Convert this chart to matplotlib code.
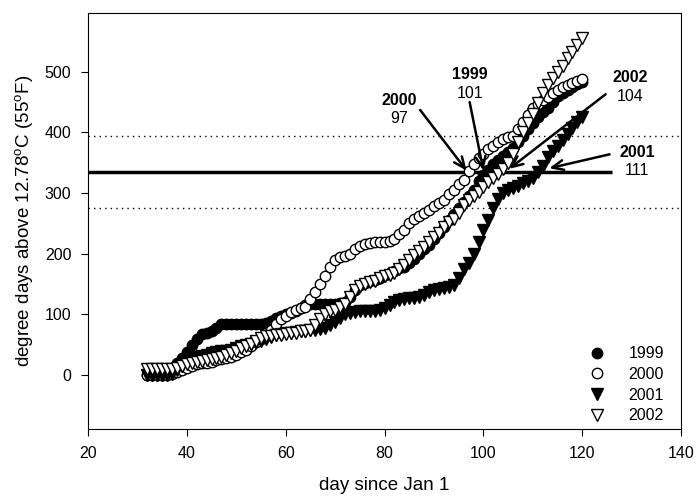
import matplotlib
matplotlib.use("Agg")
import matplotlib.pyplot as plt

plt.rcParams["font.family"] = ["Liberation Sans", "DejaVu Sans"]
plt.rcParams["mathtext.fontset"] = "custom"
plt.rcParams["mathtext.rm"] = "Liberation Sans"

# day of year, one reading per day
days = list(range(32, 121))

dd_1999 = [0, 0, 0, 0, 2, 10, 20, 28, 38, 50, 60, 68, 70, 72, 78, 85, 85, 85, 85, 85,
           85, 85, 85, 85, 86, 90, 95, 98, 100, 102, 105, 110, 115, 117, 118, 118, 118, 118, 118, 119,
           120, 128, 140, 148, 152, 155, 157, 160, 165, 168, 172, 176, 178, 185, 192, 200, 208, 215, 225, 235,
           245, 255, 265, 275, 285, 295, 305, 320, 330, 338, 348, 355, 362, 368, 375, 385, 395, 405, 415, 425,
           433, 440, 450, 460, 465, 470, 475, 480, 483]

dd_2000 = [0, 0, 0, 0, 0, 2, 5, 8, 12, 15, 18, 20, 20, 22, 25, 27, 28, 30, 33, 38,
           42, 48, 55, 60, 65, 75, 85, 92, 98, 104, 108, 110, 113, 125, 137, 150, 163, 178, 190, 195,
           197, 200, 208, 213, 216, 218, 220, 220, 220, 221, 225, 232, 240, 250, 258, 263, 268, 272, 278, 283,
           288, 298, 305, 315, 322, 336, 348, 358, 365, 372, 378, 385, 390, 392, 395, 405, 418, 428, 440, 447,
           453, 458, 465, 470, 475, 478, 482, 485, 488]

dd_2001 = [0, 0, 0, 0, 0, 2, 8, 15, 22, 28, 30, 32, 34, 36, 38, 40, 40, 42, 45, 48,
           50, 52, 54, 56, 60, 63, 66, 68, 70, 70, 71, 72, 73, 74, 75, 76, 78, 82, 88, 95,
           100, 103, 104, 105, 105, 105, 106, 108, 110, 115, 120, 124, 126, 127, 127, 128, 132, 137, 140, 142,
           143, 145, 148, 160, 175, 185, 200, 220, 240, 255, 275, 290, 300, 305, 308, 312, 316, 320, 325, 335,
           345, 360, 370, 378, 388, 398, 408, 418, 425]

dd_2002 = [10, 10, 10, 10, 10, 10, 12, 15, 18, 20, 22, 24, 25, 26, 28, 30, 33, 36, 40, 45,
           48, 52, 57, 62, 64, 65, 66, 67, 68, 69, 70, 72, 73, 75, 82, 92, 100, 105, 108, 112,
           118, 128, 140, 147, 150, 153, 156, 160, 163, 165, 168, 175, 182, 190, 198, 205, 212, 220, 228, 235,
           245, 252, 258, 268, 280, 288, 295, 302, 310, 318, 325, 332, 340, 350, 365, 385, 400, 415, 430, 448,
           465, 478, 490, 500, 510, 522, 532, 545, 556]

# threshold band
target = 335
band_lo = 275
band_hi = 395

# year, day reached, label position, arrow start, arrow tip
callouts = [
    ("2000", "97", (83.0, 453), (87.2, 437), (96.6, 337)),
    ("1999", "101", (97.2, 495), (97.2, 450), (100.0, 337)),
    ("2002", "104", (129.6, 490), (124.7, 463), (105.2, 340)),
    ("2001", "111", (131.1, 367), (125.5, 364), (113.3, 341)),
]

fig = plt.figure(figsize=(6.98, 4.99), dpi=100)
ax = fig.add_axes([0.126, 0.140, 0.850, 0.834])

ax.axhline(band_hi, color="black", lw=1, ls=(0, (1, 3)))
ax.axhline(band_lo, color="black", lw=1, ls=(0, (1, 3)))
ax.plot([20, 126], [target, target], color="black", lw=2.5, solid_capstyle="butt")

ax.plot(days, dd_1999, ls="none", marker="o", ms=7.5, mfc="black", mec="black", mew=1, label="1999")
ax.plot(days, dd_2000, ls="none", marker="o", ms=7.5, mfc="white", mec="black", mew=1, label="2000")
ax.plot(days, dd_2001, ls="none", marker="v", ms=8, mfc="black", mec="black", mew=1, label="2001")
ax.plot(days, dd_2002, ls="none", marker="v", ms=8, mfc="white", mec="black", mew=1, label="2002")

for year, day, (tx, ty), start, tip in callouts:
    ax.text(tx, ty, year, ha="center", va="center", fontsize=11.5, fontweight="bold")
    ax.text(tx, ty - 30, day, ha="center", va="center", fontsize=11.5)
    ax.annotate(
        "",
        xy=tip,
        xytext=start,
        arrowprops=dict(arrowstyle="->,head_length=0.8,head_width=0.35", lw=1.8, color="black",
                        shrinkA=0, shrinkB=0),
    )

ax.set_xlim(20, 140)
ax.set_ylim(-89, 597)
ax.set_xticks(range(20, 141, 20))
ax.set_yticks(range(0, 501, 100))
ax.tick_params(direction="out", length=5, labelsize=11.5, pad=7)

ax.set_xlabel("day since Jan 1", fontsize=13.5, labelpad=12)
ax.set_ylabel("degree days above 12.78$^\\mathregular{o}$C (55$^\\mathregular{o}$F)", fontsize=13.5, labelpad=6)

ax.legend(loc="lower right", bbox_to_anchor=(0.998, -0.024), frameon=False, fontsize=11.5,
          handletextpad=1.0, labelspacing=0.35, borderaxespad=0.6)

fig.savefig("out.png", dpi=100)
